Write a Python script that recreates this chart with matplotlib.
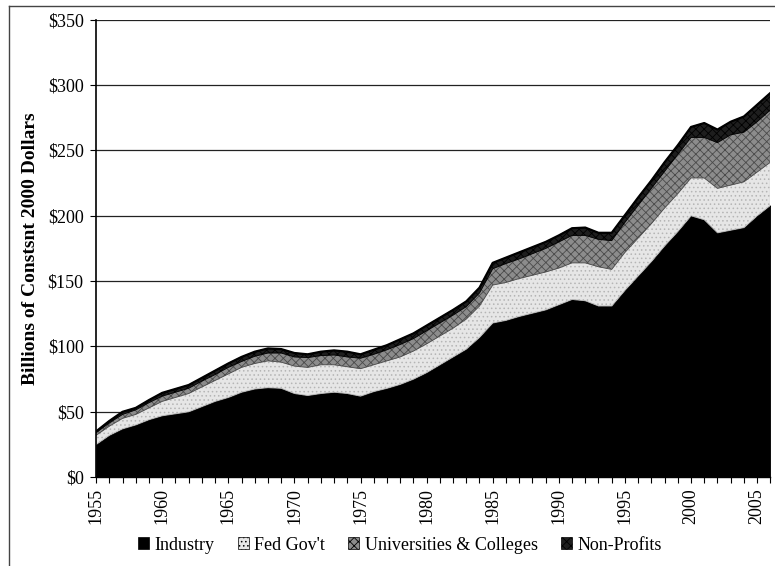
import matplotlib.pyplot as plt
import matplotlib.ticker as mticker
from matplotlib.patches import Patch
from matplotlib.lines import Line2D
import numpy as np

plt.rcParams['font.family'] = ['Liberation Serif', 'DejaVu Serif']
plt.rcParams['hatch.linewidth'] = 0.6

# R&D funding by source, billions of constant 2000 dollars
years = list(range(1955, 2007))
industry = [25, 32, 37, 40, 44, 47, 48.5, 50, 54, 58,
            61, 65, 67.5, 68.5, 68, 64, 62.5, 64, 65, 64,
            62, 65.5, 68, 71, 75, 80, 86, 92, 98, 107,
            118, 120, 123, 125.5, 128, 132, 136, 135, 131, 131,
            143, 154, 165, 177, 188, 200, 197, 187, 189, 191,
            200, 208]
fed_gov = [7, 7, 8, 8, 9, 11, 12.5, 14, 15, 16,
           18, 19, 19.5, 20.5, 20, 21, 21.5, 22, 21, 20.5,
           21, 20.5, 21, 21, 21.5, 22, 22, 22, 23, 24,
           29, 29, 29, 29, 29, 28, 28, 29, 30, 28,
           29, 29, 29, 29, 29, 29, 32, 34, 34.5, 35,
           33.5, 33]
universities = [2, 2.5, 3, 3.5, 4, 4, 4, 4, 4.5, 4.5,
                5, 4.5, 5.5, 6, 7, 7, 7.5, 7, 7.5, 7.5,
                8, 8, 8.5, 9.5, 9.5, 10, 10, 10, 9.5, 10,
                12.5, 14.5, 15, 16.5, 18, 20, 21, 21, 21, 22,
                23, 25, 27, 28, 30, 31, 31, 35, 38.5, 38,
                38.5, 40]
non_profits = [1, 1.5, 2, 1.5, 2, 2.5, 2.5, 2.5, 2.5, 3,
               3, 3.5, 3.5, 3.5, 3, 3, 2.5, 3, 3.5, 4,
               3, 3.5, 3.5, 4, 4, 4, 4, 4, 4, 4,
               4.5, 4.5, 5, 5, 5, 5, 5.5, 6, 5, 6,
               5.5, 6, 6, 7, 7, 8, 11, 10, 10, 12,
               13, 13]

labels = ['Industry', "Fed Gov't", 'Universities & Colleges', 'Non-Profits']
colors = ['black', '#e6e6e6', '#8c8c8c', '#1e1e1e']
hatches = [None, '....', 'xxxx', 'xxxx']

fig = plt.figure(figsize=(7.75, 5.66), dpi=100)
ax = fig.add_axes([0.124, 0.157, 0.87, 0.808])

stacks = ax.stackplot(years, industry, fed_gov, universities, non_profits,
                      colors=colors, edgecolor='black', linewidth=0.6)
for poly, h in zip(stacks, hatches):
    if h:
        poly.set_hatch(h)
stacks[1].set_edgecolor('#b5b5b5')
stacks[2].set_edgecolor('#4a4a4a')
stacks[3].set_edgecolor('black')

# top outline
ax.plot(years, np.sum([industry, fed_gov, universities, non_profits], axis=0),
        color='black', lw=1.6, zorder=3)

ax.set_xlim(1955, 2006)
ax.set_ylim(0, 350)
ax.yaxis.set_major_locator(mticker.MultipleLocator(50))
ax.yaxis.set_major_formatter(mticker.FuncFormatter(lambda v, p: f'${v:.0f}'))
ax.grid(axis='y', color='#222222', lw=0.9)
ax.set_axisbelow(True)

ax.set_xticks(range(1955, 2006, 5))
ax.set_xticks(range(1955, 2007), minor=True)
ax.tick_params(axis='x', which='both', direction='out', length=4, width=0.8)
ax.tick_params(axis='x', labelrotation=90, labelsize=13, pad=4)
ax.tick_params(axis='y', direction='out', length=4, labelsize=13, pad=5)

for side in ['top', 'right']:
    ax.spines[side].set_visible(False)
ax.spines['left'].set_linewidth(1.2)
ax.spines['bottom'].set_linewidth(1.0)

ax.set_ylabel('Billions of Constsnt 2000 Dollars', fontsize=14,
              fontweight='bold', labelpad=6)

handles = [Patch(facecolor=c, edgecolor='black', hatch=h, lw=0.5)
           for c, h in zip(colors, hatches)]
fig.legend(handles, labels, loc='center', bbox_to_anchor=(0.516, 0.037),
           ncol=4, frameon=False, fontsize=13, handlelength=0.6,
           handleheight=0.6, handletextpad=0.3, columnspacing=1.3)

# scanned page frame
fig.add_artist(Line2D([0.011, 0.011], [0, 0.99], color='#444444', lw=1.0))
fig.add_artist(Line2D([0.011, 1.0], [0.99, 0.99], color='#444444', lw=1.0))

fig.savefig('out.png', dpi=100)
